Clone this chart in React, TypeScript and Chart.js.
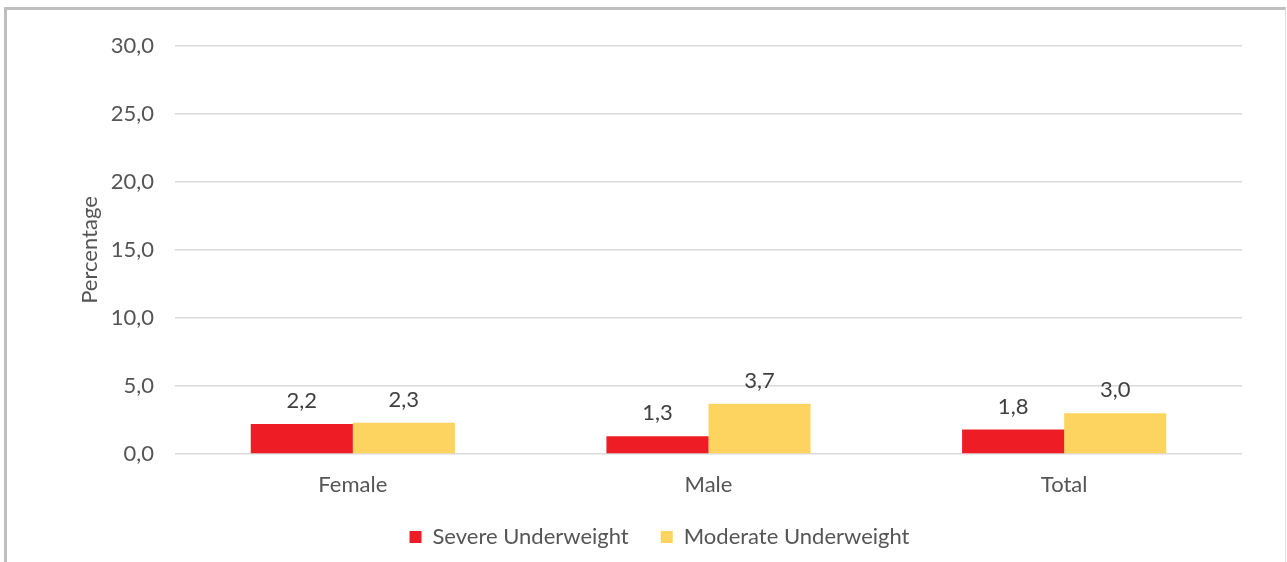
import React, { useEffect, useRef } from "react";
import { Chart, registerables } from "chart.js";

Chart.register(...registerables);

const categories = ["Female", "Male", "Total"];
const severeUnderweight = [2.2, 1.3, 1.8];
const moderateUnderweight = [2.3, 3.7, 3.0];
const seriesNames = ["Severe Underweight", "Moderate Underweight"];
const yTickMax = 30;
const yTickStep = 5;
const yTitle = "Percentage";

const FONT = "Lato";
const fmt = (v: number) => v.toFixed(1).replace(".", ",");

const valueLabels = {
  id: "valueLabels",
  afterDatasetsDraw(chart: any) {
    const ctx = chart.ctx;
    ctx.save();
    ctx.font = `22px ${FONT}`;
    ctx.fillStyle = "#404040";
    ctx.textAlign = "center";
    ctx.textBaseline = "middle";
    chart.data.datasets.forEach((ds: any, i: number) => {
      const meta = chart.getDatasetMeta(i);
      meta.data.forEach((el: any, j: number) => {
        ctx.fillText(fmt(ds.data[j]), el.x, el.y - 23);
      });
    });
    ctx.restore();
  },
};

export default function App() {
  const ref = useRef<HTMLCanvasElement>(null);
  useEffect(() => {
    if (!ref.current) return;
    const chart = new Chart(ref.current, {
      type: "bar",
      data: {
        labels: categories,
        datasets: [
          {
            label: seriesNames[0],
            data: severeUnderweight,
            backgroundColor: "#EE1C25",
            categoryPercentage: 0.574,
            barPercentage: 1,
          },
          {
            label: seriesNames[1],
            data: moderateUnderweight,
            backgroundColor: "#FED460",
            categoryPercentage: 0.574,
            barPercentage: 1,
          },
        ],
      },
      options: {
        responsive: false,
        animation: false,
        layout: { padding: { left: 77, right: 45, top: 46, bottom: 4 } },
        scales: {
          y: {
            min: 0,
            max: yTickMax,
            ticks: {
              stepSize: yTickStep,
              callback: (v: any) => fmt(Number(v)),
              font: { family: FONT, size: 22 },
              color: "#555555",
              padding: 21,
            },
            grid: { color: "#dcd9d8", drawTicks: false, lineWidth: 1.5 },
            border: { display: false },
            title: {
              display: true,
              text: yTitle,
              font: { family: FONT, size: 22 },
              color: "#555555",
              padding: 0,
            },
            afterFit: (s: any) => {
              s.width = 98;
            },
          },
          x: {
            grid: { display: false, drawTicks: false },
            border: { display: false },
            ticks: {
              font: { family: FONT, size: 22 },
              color: "#555555",
              padding: 18,
            },
            afterFit: (s: any) => {
              s.height = 40;
            },
          },
        },
        plugins: {
          legend: {
            position: "bottom",
            maxHeight: 64,
            labels: {
              boxWidth: 12,
              boxHeight: 12,
              padding: 32,
              font: { family: FONT, size: 22 },
              color: "#555555",
            },
          },
          tooltip: { enabled: false },
        },
      },
      plugins: [valueLabels],
    } as any);
    return () => chart.destroy();
  }, []);

  return (
    <div
      style={{
        position: "fixed",
        left: 0,
        top: 0,
        width: 1287,
        height: 562,
        background: "#fff",
        overflow: "hidden",
      }}
    >
      <div
        style={{
          position: "absolute",
          left: 4,
          top: 7,
          width: 1282,
          height: 600,
          boxSizing: "border-box",
          borderTop: "3px solid #bfbfbf",
          borderLeft: "3px solid #bfbfbf",
          borderRight: "1px solid #e0e0e0",
        }}
      />
      <canvas
        ref={ref}
        width={1287}
        height={562}
        style={{ position: "absolute", left: 0, top: 0, width: 1287, height: 562 }}
      />
    </div>
  );
}
